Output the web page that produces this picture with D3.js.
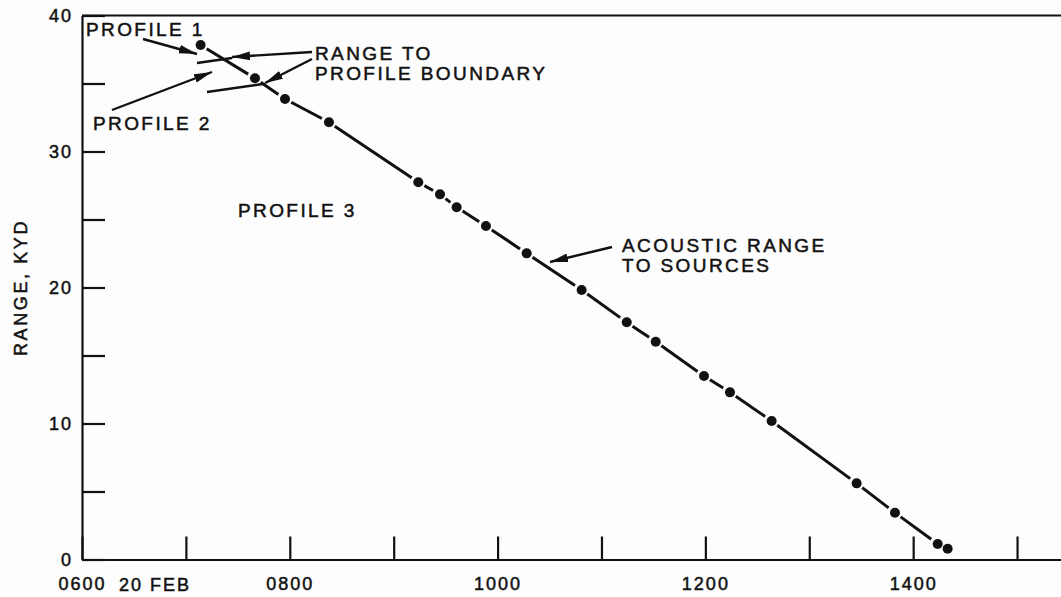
<!DOCTYPE html>
<html>
<head>
<meta charset="utf-8">
<script src="https://cdn.jsdelivr.net/npm/d3@7"></script>
<style>
    body { margin: 0; background: #fdfdfd; }
    svg { display: block; }
    text { font-family: "Liberation Sans", Arial, sans-serif; fill: #111; stroke: #111; stroke-width: 0.5px; }
</style>
</head>
<body>
<script>
// acoustic range to sources, time in hours of day (20 Feb)
const timeHours = [7.142, 7.665, 7.954, 8.377, 9.237, 9.446, 9.606, 9.888, 10.28, 10.809, 11.243, 11.522, 11.987, 12.237, 12.638, 13.456, 13.825, 14.236, 14.332]
const rangeKyd = [37.83, 35.38, 33.86, 32.15, 27.74, 26.85, 25.9, 24.52, 22.51, 19.82, 17.44, 16.01, 13.49, 12.29, 10.18, 5.6, 3.44, 1.14, 0.79]

// range to profile boundary (short marks), [time, range] pairs
const boundary1 = [[7.107, 36.51], [7.444, 36.88]]
const boundary2 = [[7.203, 34.38], [7.742, 34.96]]

const xTickValues = [6, 7, 8, 9, 10, 11, 12, 13, 14, 15]
const xTickLabels = ["0600", "", "0800", "", "1000", "", "1200", "", "1400", ""]
const yTickValues = [0, 5, 10, 15, 20, 25, 30, 35, 40]
const yTickLabels = ["0", "", "10", "", "20", "", "30", "", "40"]

const width = 1061
const height = 597

const svg = d3.select("body")
    .append("svg")
    .attr("width", width)
    .attr("height", height)

const x = d3.scaleLinear()
    .domain([6, 15.423])
    .range([82, 1061])

const y = d3.scaleLinear()
    .domain([0, 40])
    .range([559.5, 15.5])

// arrow head
svg.append("defs")
    .append("marker")
    .attr("id", "head")
    .attr("markerUnits", "userSpaceOnUse")
    .attr("viewBox", "0 -5 18 10")
    .attr("refX", 18)
    .attr("refY", 0)
    .attr("markerWidth", 18)
    .attr("markerHeight", 10)
    .attr("orient", "auto")
    .append("path")
    .attr("d", "M0,-4.3L18,0L0,4.3Z")
    .attr("fill", "#111")

// axes: ticks drawn inward, no outer ticks
const xAxis = d3.axisBottom(x)
    .tickValues(xTickValues)
    .tickSize(-23)
    .tickSizeOuter(0)
    .tickFormat((d, i) => xTickLabels[i])

const yAxis = d3.axisLeft(y)
    .tickValues(yTickValues)
    .tickSize(-23)
    .tickSizeOuter(0)
    .tickFormat((d, i) => yTickLabels[i])

const gx = svg.append("g")
    .attr("transform", `translate(0,${y(0)})`)
    .call(xAxis)
gx.select(".domain").attr("stroke", "#111").attr("stroke-width", 2.2)
gx.selectAll(".tick line").attr("stroke", "#111").attr("stroke-width", 2.2)
gx.selectAll(".tick text")
    .attr("y", 18)
    .attr("dy", "0.71em")
    .style("font-size", "18px")
    .style("letter-spacing", "2px")
    .attr("fill", "#111")

const gy = svg.append("g")
    .attr("transform", `translate(${x(6)},0)`)
    .call(yAxis)
gy.select(".domain").attr("stroke", "#111").attr("stroke-width", 2.2)
gy.selectAll(".tick line").attr("stroke", "#111").attr("stroke-width", 2.2)
gy.selectAll(".tick text")
    .attr("x", -9)
    .style("font-size", "18px")
    .style("letter-spacing", "2px")
    .attr("fill", "#111")

// top frame line
svg.append("line")
    .attr("x1", x(6))
    .attr("x2", x(15.423))
    .attr("y1", y(40))
    .attr("y2", y(40))
    .attr("stroke", "#111")
    .attr("stroke-width", 2.2)

svg.append("text")
    .attr("x", x(6) + 37)
    .attr("y", y(0) + 31)
    .style("font-size", "18px")
    .style("letter-spacing", "2px")
    .text("20 FEB")

svg.append("text")
    .attr("transform", `translate(27,${y(20)}) rotate(-90)`)
    .attr("text-anchor", "middle")
    .style("font-size", "18px")
    .style("letter-spacing", "2.6px")
    .text("RANGE, KYD")

// line between the points, broken near each dot
const points = timeHours.map((t, i) => [x(t), y(rangeKyd[i])])
const segments = d3.pairs(points).map(([a, b]) => {
    const dx = b[0] - a[0]
    const dy = b[1] - a[1]
    const len = Math.hypot(dx, dy)
    const s = 7 / len
    const e = 8 / len
    return { x1: a[0] + dx * s, y1: a[1] + dy * s, x2: b[0] - dx * e, y2: b[1] - dy * e, len }
}).filter((d) => d.len > 20)

svg.selectAll(".seg")
    .data(segments)
    .join("line")
    .attr("class", "seg")
    .attr("x1", (d) => d.x1)
    .attr("y1", (d) => d.y1)
    .attr("x2", (d) => d.x2)
    .attr("y2", (d) => d.y2)
    .attr("stroke", "#111")
    .attr("stroke-width", 3)

svg.selectAll(".dot")
    .data(timeHours)
    .join("circle")
    .attr("class", "dot")
    .attr("cx", (d) => x(d))
    .attr("cy", (d, i) => y(rangeKyd[i]))
    .attr("r", 5)
    .attr("fill", "#111")

// profile boundary marks
const line = d3.line().x((d) => x(d[0])).y((d) => y(d[1]))
svg.selectAll(".boundary")
    .data([boundary1, boundary2])
    .join("path")
    .attr("class", "boundary")
    .attr("d", line)
    .attr("fill", "none")
    .attr("stroke", "#111")
    .attr("stroke-width", 2.6)

// annotation arrows (pixel space)
const arrows = [
    [143, 39, 197, 54],
    [112, 110, 212, 72],
    [312, 52, 232, 57],
    [312, 59, 265, 83],
    [612, 247, 550, 262]
]
svg.selectAll(".arrow")
    .data(arrows)
    .join("line")
    .attr("class", "arrow")
    .attr("x1", (d) => d[0])
    .attr("y1", (d) => d[1])
    .attr("x2", (d) => d[2])
    .attr("y2", (d) => d[3])
    .attr("stroke", "#111")
    .attr("stroke-width", 2.4)
    .attr("marker-end", "url(#head)")

const labels = [
    { text: "PROFILE 1", x: 86, y: 36 },
    { text: "PROFILE 2", x: 93, y: 130 },
    { text: "RANGE TO", x: 315, y: 60 },
    { text: "PROFILE BOUNDARY", x: 315, y: 80 },
    { text: "PROFILE 3", x: 238, y: 217 },
    { text: "ACOUSTIC RANGE", x: 622, y: 252 },
    { text: "TO SOURCES", x: 622, y: 272 }
]
svg.selectAll(".label")
    .data(labels)
    .join("text")
    .attr("class", "label")
    .attr("x", (d) => d.x)
    .attr("y", (d) => d.y)
    .style("font-size", "19px")
    .style("letter-spacing", "2.4px")
    .text((d) => d.text)
</script>
</body>
</html>
